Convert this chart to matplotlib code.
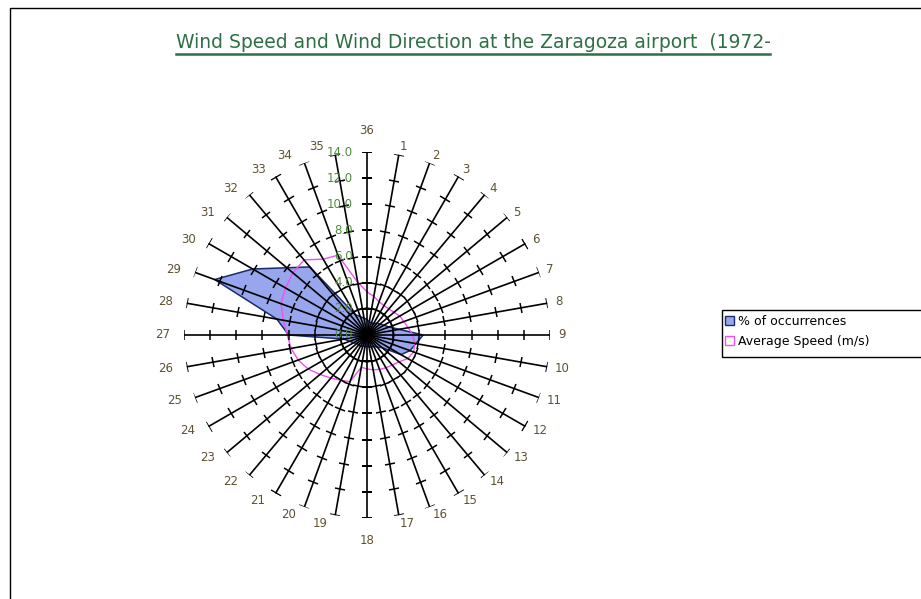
import numpy as np
import matplotlib
matplotlib.use("Agg")
import matplotlib.pyplot as plt
from matplotlib.markers import MarkerStyle
from matplotlib.patches import Patch, Rectangle
from matplotlib.lines import Line2D

# directions 1..36 (tens of degrees)
directions = list(range(1, 37))
occurrences = [1.0, 1.0, 1.0, 1.2, 1.3, 1.5, 1.8, 2.5, 4.3, 3.8, 3.5, 3.0,
               1.5, 1.2, 1.0, 1.0, 0.9, 0.9, 0.9, 0.9, 1.0, 1.0, 1.0, 1.2,
               1.4, 1.8, 6.0, 7.0, 12.4, 10.1, 8.0, 6.8, 1.8, 1.5, 1.3, 1.2]
avg_speed = [3.0, 2.7, 2.6, 2.6, 2.7, 2.9, 3.0, 3.2, 3.5, 3.7, 3.8, 3.6,
             3.2, 3.0, 2.9, 2.8, 2.7, 2.6, 2.5, 3.8, 4.0, 4.3, 4.7, 5.2,
             5.6, 5.9, 6.1, 6.5, 7.0, 7.2, 7.4, 7.5, 6.7, 6.5, 4.1, 3.3]
r_ticks = [0, 2, 4, 6, 8, 10, 12, 14]
title = "Wind Speed and Wind Direction at the Zaragoza airport  (1972-"
series_names = ["% of occurrences", "Average Speed (m/s)"]

W, H = 921, 599
PT = 0.72  # points per pixel at 100 dpi
fig = plt.figure(figsize=(W / 100, H / 100), dpi=100)
fig.patch.set_facecolor("white")

cx, cy, R = 367, 335, 183
ax = fig.add_axes([(cx - R) / W, (H - cy - R) / H, 2 * R / W, 2 * R / H],
                  projection="polar")
ax.set_theta_zero_location("N")
ax.set_theta_direction(-1)
ax.set_ylim(0, 14)
ax.grid(False)
ax.set_xticks([])
ax.set_yticks([])
ax.spines["polar"].set_visible(False)
ax.patch.set_alpha(0)

theta = np.deg2rad(np.array(directions) * 10.0)

# data polygons
t_closed = np.append(theta, theta[0])
occ_closed = np.append(occurrences, occurrences[0])
spd_closed = np.append(avg_speed, avg_speed[0])
ax.fill(t_closed, occ_closed, facecolor="#98A6EE", edgecolor="#1A2A6C",
        lw=1.1, zorder=2)
ax.plot(t_closed, spd_closed, color="#F050F0", lw=1.0, zorder=2)

# spokes with tick marks
for d, t in zip(directions, theta):
    ax.plot([t, t], [0, 14], color="black", lw=1.2, zorder=3)
    mk = MarkerStyle("_").rotated(deg=-d * 10.0)
    ax.plot([t] * 7, r_ticks[1:], ls="none", marker=mk, ms=7.5, mew=1.1,
            color="black", zorder=3)

# value labels along the vertical axis
for v in r_ticks:
    ax.annotate(f"{v:.1f}", xy=(0, v), xytext=(-10, 0), textcoords="offset points",
                ha="right", va="center", fontsize=8.5, color="#4F8A3C",
                annotation_clip=False, zorder=4)

# direction labels
for d, t in zip(directions, theta):
    a = d * 10.0
    s, c = np.sin(np.deg2rad(a)), np.cos(np.deg2rad(a))
    if a % 180 == 0:
        dx, dy = 0.0, 22.0 * c
        ha = "center"
    elif a < 180:
        dx, dy = 8.0 * s, 8.0 * c
        ha = "left"
    else:
        dx, dy = 8.0 * s - 6.0, 8.0 * c
        if a >= 340:
            dx -= 4.0
        ha = "right"
    ax.annotate(str(d), xy=(t, 14), xytext=(dx * PT, dy * PT),
                textcoords="offset points", ha=ha, va="center",
                fontsize=8.5, color="#5E5233", annotation_clip=False)

# title with underline
ttl = fig.text(473 / W, 1 - 48 / H, title, ha="center", va="baseline",
               fontsize=13.5, color="#2F6F45")
fig.canvas.draw()
bb = ttl.get_window_extent()
fig.add_artist(Line2D([bb.x0 / W, bb.x1 / W], [1 - 54 / H, 1 - 54 / H],
                      transform=fig.transFigure, color="#2F6F45", lw=1.8))

# legend (frame runs past the right edge of the image)
handles = [Patch(facecolor="#98A6EE", edgecolor="#1A2A6C", lw=1.0),
           Patch(facecolor="white", edgecolor="#F050F0", lw=1.0)]
fig.legend(handles, series_names, loc="upper left",
           bbox_to_anchor=(721 / W, 1 - 311 / H), fontsize=9,
           frameon=False, handlelength=0.75, handleheight=0.75,
           handletextpad=0.3, borderpad=0.3, labelspacing=0.55, borderaxespad=0)
fig.add_artist(Rectangle((722 / W, 1 - 357 / H), 300 / W, 47 / H,
                         transform=fig.transFigure, fill=False,
                         edgecolor="black", lw=1.0))

# outer chart border (right and bottom edges fall outside the image)
fig.add_artist(Rectangle((10 / W, -0.5), 2.0, 1.5 - 8 / H, transform=fig.transFigure,
                         fill=False, edgecolor="black", lw=1.0))

fig.savefig("out.png", dpi=100)
